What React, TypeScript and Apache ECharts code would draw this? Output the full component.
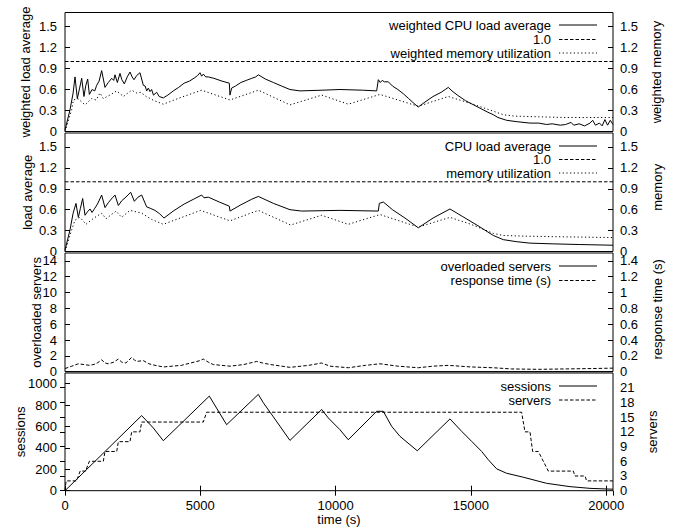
import React, { useEffect, useRef } from "react";
import * as echarts from "echarts";

const FONT = "'Liberation Sans', Arial, Helvetica, sans-serif";

// ---------- data (time in s, value) ----------
const timeRange = [0, 20250];
const xTickStep = 5000;

const weightedCpuLoad = [
  [0, 0.02], [185, 0.31], [300, 0.55], [370, 0.78], [455, 0.47], [540, 0.62], [617, 0.76], [700, 0.5],
  [770, 0.66], [838, 0.75], [900, 0.53], [1000, 0.6], [1100, 0.58], [1170, 0.66], [1260, 0.72], [1355, 0.87],
  [1478, 0.63], [1600, 0.7], [1725, 0.76], [1800, 0.73], [1848, 0.81], [1935, 0.7], [2032, 0.83], [2100, 0.74],
  [2192, 0.68], [2300, 0.78], [2402, 0.85], [2480, 0.78], [2550, 0.74], [2650, 0.8], [2771, 0.84], [2894, 0.66],
  [2960, 0.65], [3020, 0.58], [3080, 0.62], [3140, 0.57], [3200, 0.6], [3270, 0.52], [3387, 0.56], [3480, 0.5],
  [3633, 0.48], [3800, 0.52], [4000, 0.58], [4200, 0.63], [4400, 0.69], [4600, 0.72], [4800, 0.77], [4900, 0.8],
  [4988, 0.84], [5050, 0.79], [5111, 0.82], [5200, 0.78], [5296, 0.78], [5500, 0.76], [5800, 0.72], [6072, 0.69],
  [6096, 0.52], [6158, 0.62], [6300, 0.65], [6500, 0.7], [6700, 0.73], [6900, 0.76], [7050, 0.78], [7143, 0.81],
  [7400, 0.75], [7700, 0.7], [8000, 0.65], [8313, 0.6], [8683, 0.58], [9500, 0.59], [10160, 0.6], [11000, 0.59],
  [11517, 0.58], [11578, 0.74], [11650, 0.7], [11720, 0.73], [11800, 0.71], [11947, 0.71], [12100, 0.65],
  [12300, 0.6], [12500, 0.54], [12700, 0.47], [12900, 0.4], [13055, 0.35], [13300, 0.42], [13600, 0.5],
  [13900, 0.56], [14050, 0.6], [14164, 0.63], [14300, 0.58], [14500, 0.52], [14800, 0.44], [15100, 0.38],
  [15400, 0.32], [15600, 0.28], [15827, 0.24], [16000, 0.2], [16318, 0.16], [16700, 0.14], [17182, 0.12],
  [17500, 0.12], [17800, 0.1], [18000, 0.11], [18300, 0.09], [18500, 0.1], [18700, 0.13], [18800, 0.09],
  [19000, 0.11], [19200, 0.08], [19400, 0.12], [19500, 0.16], [19600, 0.09], [19750, 0.12], [19850, 0.08],
  [19950, 0.17], [20050, 0.09], [20150, 0.16], [20250, 0.1],
];
const weightedMemory = [
  [0, 0], [246, 0.31], [308, 0.45], [480, 0.47], [739, 0.38], [985, 0.47], [1150, 0.45], [1293, 0.55],
  [1416, 0.47], [1700, 0.53], [1910, 0.58], [2156, 0.5], [2464, 0.59], [2650, 0.55], [2800, 0.56], [3000, 0.5],
  [3300, 0.44], [3633, 0.39], [4300, 0.49], [5050, 0.59], [6097, 0.45], [7143, 0.59], [8313, 0.38], [9485, 0.52],
  [10468, 0.39], [11640, 0.53], [13055, 0.36], [14164, 0.5], [15000, 0.4], [15827, 0.29], [16195, 0.24],
  [16600, 0.22], [17500, 0.21], [18500, 0.2], [19500, 0.2], [20250, 0.2],
];
const cpuLoad = [
  [0, 0.02], [185, 0.31], [300, 0.55], [406, 0.69], [493, 0.49], [570, 0.62], [653, 0.76], [740, 0.52],
  [830, 0.57], [924, 0.61], [1000, 0.56], [1100, 0.62], [1200, 0.68], [1355, 0.81], [1478, 0.63], [1600, 0.7],
  [1750, 0.77], [1848, 0.81], [1972, 0.66], [2100, 0.73], [2250, 0.78], [2427, 0.85], [2562, 0.72], [2700, 0.78],
  [2833, 0.81], [3017, 0.64], [3150, 0.62], [3325, 0.59], [3500, 0.54], [3658, 0.48], [4000, 0.58], [4400, 0.68],
  [4800, 0.76], [5050, 0.81], [5136, 0.77], [5296, 0.78], [5700, 0.71], [6072, 0.65], [6097, 0.58], [6500, 0.67],
  [6900, 0.75], [7143, 0.79], [7700, 0.69], [8313, 0.6], [8745, 0.58], [10160, 0.59], [11578, 0.58],
  [11615, 0.69], [11763, 0.71], [12100, 0.6], [12600, 0.47], [13055, 0.34], [13600, 0.48], [14226, 0.61],
  [14700, 0.5], [15300, 0.36], [15827, 0.23], [16195, 0.17], [16700, 0.14], [17182, 0.12], [18000, 0.11],
  [19000, 0.1], [20250, 0.09],
];
const memoryUtil = [
  [0, 0], [246, 0.31], [370, 0.45], [555, 0.49], [776, 0.39], [1000, 0.46], [1150, 0.5], [1355, 0.55],
  [1515, 0.47], [1885, 0.58], [2094, 0.49], [2402, 0.59], [2833, 0.55], [3200, 0.46], [3633, 0.39], [5013, 0.59],
  [6097, 0.44], [7143, 0.59], [8338, 0.38], [9485, 0.52], [10468, 0.39], [11640, 0.53], [13055, 0.35],
  [14226, 0.49], [15000, 0.39], [15827, 0.26], [16195, 0.23], [17000, 0.22], [18500, 0.21], [20250, 0.2],
];
const thresholdLine = [[0, 1.0], [20250, 1.0]];
const overloadedServers = [[0, 0], [20250, 0]];
const responseTime = [
  [0, 0.04], [250, 0.07], [493, 0.1], [700, 0.09], [924, 0.08], [1150, 0.1], [1355, 0.15], [1480, 0.11],
  [1601, 0.1], [1800, 0.12], [1972, 0.16], [2100, 0.12], [2250, 0.11], [2464, 0.18], [2560, 0.15], [2648, 0.13],
  [2894, 0.14], [3100, 0.1], [3264, 0.085], [3633, 0.06], [4300, 0.08], [4988, 0.14], [5111, 0.16], [5300, 0.12],
  [5481, 0.09], [6097, 0.07], [6600, 0.09], [7083, 0.13], [7300, 0.11], [7600, 0.09], [8313, 0.055], [9000, 0.08],
  [9485, 0.11], [9790, 0.07], [10468, 0.05], [11100, 0.08], [11640, 0.1], [12300, 0.07], [13055, 0.05],
  [13600, 0.07], [14164, 0.08], [15000, 0.06], [15827, 0.05], [16500, 0.035], [17500, 0.03], [18500, 0.035],
  [19500, 0.04], [20250, 0.045],
];
const sessions = [
  [0, 0], [2833, 702], [3264, 586], [3633, 467], [5333, 884], [5973, 617], [7143, 900], [7328, 822], [7700, 690],
  [8313, 470], [9485, 759], [9730, 680], [10160, 570], [10468, 476], [11517, 742], [11763, 742], [12070, 602],
  [12378, 508], [13018, 373], [14226, 671], [14657, 555], [15027, 461], [15397, 367], [15643, 289], [15951, 204],
  [16318, 163], [16934, 126], [17797, 69], [18660, 38], [19400, 22], [20016, 16], [20250, 14],
];
const servers = [
  [0, 0], [40, 2], [430, 2], [560, 4], [760, 4], [900, 6], [1416, 6], [1478, 8], [1910, 8], [1972, 10],
  [2402, 10], [2464, 12], [2771, 12], [2833, 14], [5111, 14], [5234, 16], [16873, 16], [16997, 12], [17182, 12],
  [17281, 8], [17490, 8], [17860, 4], [18784, 4], [18845, 3], [19215, 3], [19277, 2], [20250, 2],
];

// ---------- styles ----------
const SOLID = "solid";
const DASHED = [3.5, 2];
const DOTTED = [1.2, 2.5];

const GRID_LEFT = 65;
const GRID_WIDTH = 548;
const panels = [
  { top: 12.5, height: 119 },
  { top: 133, height: 118.5 },
  { top: 253, height: 118.7 },
  { top: 373, height: 117.7 },
];

const legendRows = [
  { y: 25, label: "weighted CPU load average", dash: SOLID },
  { y: 39.5, label: "1.0", dash: DASHED },
  { y: 53, label: "weighted memory utilization", dash: DOTTED },
  { y: 146, label: "CPU load average", dash: SOLID },
  { y: 159.5, label: "1.0", dash: DASHED },
  { y: 173, label: "memory utilization", dash: DOTTED },
  { y: 266, label: "overloaded servers", dash: SOLID },
  { y: 280.5, label: "response time (s)", dash: DASHED },
  { y: 386, label: "sessions", dash: SOLID },
  { y: 400, label: "servers", dash: DASHED },
];

const fmt = (v: number) => String(Math.round(v * 1000) / 1000);

function yAxis(grid: number, pos: "left" | "right", max: number, interval: number, name: string, gap: number, shift = 0) {
  return {
    type: "value",
    gridIndex: grid,
    position: pos,
    min: 0,
    max,
    interval,
    name,
    nameLocation: "middle",
    nameGap: gap,
    nameMoveOverlap: false,
    nameTextStyle: { color: "#000", fontSize: 13, fontFamily: FONT, padding: shift ? [0, 0, 0, shift] : 0 },
    axisLine: { show: false },
    axisTick: { show: true, inside: true, length: 5, lineStyle: { color: "#000", width: 1 } },
    axisLabel: {
      color: "#000",
      fontSize: 13,
      fontFamily: FONT,
      margin: pos === "left" ? 8 : 7,
      showMaxLabel: false,
      formatter: fmt,
    },
    splitLine: { show: false },
  };
}

function line(name: string, data: number[][], x: number, y: number, dash: any) {
  return {
    type: "line",
    name,
    xAxisIndex: x,
    yAxisIndex: y,
    data,
    symbol: "none",
    showSymbol: false,
    silent: true,
    color: "#000",
    lineStyle: { color: "#000", width: 1, type: dash },
  };
}

export default function App() {
  const ref = useRef<HTMLDivElement>(null);
  useEffect(() => {
    if (!ref.current) return;
    const chart = echarts.init(ref.current, undefined, { renderer: "svg" });
    const hiddenX = (i: number) => ({
      type: "value",
      gridIndex: i,
      min: timeRange[0],
      max: timeRange[1],
      interval: xTickStep,
      show: false,
      splitLine: { show: false },
    });
    const graphic: any[] = [];
    legendRows.forEach((r) => {
      graphic.push({
        type: "text",
        silent: true,
        style: {
          text: r.label,
          x: 551,
          y: r.y,
          align: "right",
          verticalAlign: "middle",
          fontSize: 13,
          fontFamily: FONT,
          fill: "#000",
        },
      });
      graphic.push({
        type: "line",
        silent: true,
        shape: { x1: 559, y1: r.y, x2: 597, y2: r.y },
        style: { stroke: "#000", lineWidth: 1, lineDash: r.dash === SOLID ? null : r.dash },
      });
    });
    chart.setOption({
      animation: false,
      backgroundColor: "#fff",
      textStyle: { fontFamily: FONT },
      grid: panels.map((p) => ({
        left: GRID_LEFT,
        width: GRID_WIDTH,
        top: p.top,
        height: p.height,
        show: true,
        borderColor: "#000",
        borderWidth: 1,
        backgroundColor: "transparent",
      })),
      xAxis: [
        hiddenX(0),
        hiddenX(1),
        hiddenX(2),
        {
          type: "value",
          gridIndex: 3,
          position: "bottom",
          min: timeRange[0],
          max: timeRange[1],
          interval: xTickStep,
          name: "time (s)",
          nameLocation: "middle",
          nameGap: 22,
          nameMoveOverlap: false,
          nameTextStyle: { color: "#000", fontSize: 13, fontFamily: FONT },
          axisLine: { show: false },
          axisTick: { show: true, inside: true, length: 5, lineStyle: { color: "#000" } },
          axisLabel: { color: "#000", fontSize: 13, fontFamily: FONT, margin: 8, showMaxLabel: false, formatter: fmt },
          splitLine: { show: false },
        },
        {
          type: "value",
          gridIndex: 3,
          position: "top",
          min: timeRange[0],
          max: timeRange[1],
          interval: xTickStep,
          axisLine: { show: false },
          axisTick: { show: true, inside: true, length: 5, lineStyle: { color: "#000" } },
          axisLabel: { show: false },
          splitLine: { show: false },
        },
      ],
      yAxis: [
        yAxis(0, "left", 1.7, 0.3, "weighted load average", 33),
        yAxis(0, "right", 1.7, 0.3, "weighted memory", 37),
        yAxis(1, "left", 1.7, 0.3, "load average", 31),
        yAxis(1, "right", 1.7, 0.3, "memory", 38, 10),
        yAxis(2, "left", 15, 2, "overloaded servers", 22),
        yAxis(2, "right", 1.5, 0.2, "response time (s)", 38, 6),
        yAxis(3, "left", 1100, 200, "sessions", 38),
        yAxis(3, "right", 24, 3, "servers", 33),
      ],
      series: [
        line("1.0", thresholdLine, 0, 0, DASHED),
        line("weighted memory utilization", weightedMemory, 0, 1, DOTTED),
        line("weighted CPU load average", weightedCpuLoad, 0, 0, SOLID),
        line("1.0 ", thresholdLine, 1, 2, DASHED),
        line("memory utilization", memoryUtil, 1, 3, DOTTED),
        line("CPU load average", cpuLoad, 1, 2, SOLID),
        line("overloaded servers", overloadedServers, 2, 4, SOLID),
        line("response time (s)", responseTime, 2, 5, DASHED),
        line("servers", servers, 3, 7, DASHED),
        line("sessions", sessions, 3, 6, SOLID),
      ],
      graphic,
    });
    return () => chart.dispose();
  }, []);
  return <div ref={ref} style={{ position: "absolute", left: 0, top: 0, width: 676, height: 527 }} />;
}
